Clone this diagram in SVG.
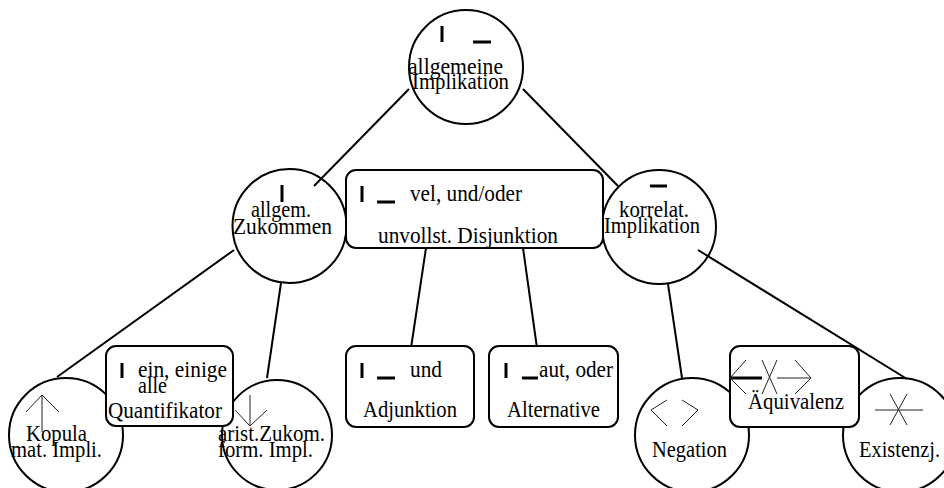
<svg xmlns="http://www.w3.org/2000/svg" width="944" height="488" viewBox="0 0 944 488">
<style>
text{font-family:"Liberation Serif","Times New Roman",serif;font-size:22.5px;fill:#000}
.c{fill:#fff;stroke:#000;stroke-width:2}
.b{fill:#fff;stroke:#000;stroke-width:2}
.e{stroke:#000;stroke-width:2;fill:none}
.k{stroke:#000;stroke-width:3;fill:none}
.s{stroke:#222;stroke-width:1;fill:none}
</style>
<rect width="944" height="488" fill="#fff"/>
<g id="n-allgemeine-implikation">
<circle class="c" cx="466" cy="67" r="57"/>
<line class="k" x1="442" y1="26" x2="442" y2="42"/>
<line class="k" x1="473" y1="42" x2="491" y2="42"/>
<text x="408" y="74" textLength="95" lengthAdjust="spacingAndGlyphs">allgemeine</text>
<text x="412" y="89" textLength="97" lengthAdjust="spacingAndGlyphs">Implikation</text>
</g>
<g id="n-allgem-zukommen">
<circle class="c" cx="289.5" cy="226" r="57"/>
<line class="k" x1="282" y1="185" x2="282" y2="202"/>
<text x="251" y="217" textLength="60" lengthAdjust="spacingAndGlyphs">allgem.</text>
<text x="233" y="234" textLength="99" lengthAdjust="spacingAndGlyphs">Zukommen</text>
</g>
<g id="n-korrelat-implikation">
<circle class="c" cx="659" cy="227" r="57"/>
<line class="k" x1="650" y1="186" x2="667" y2="186"/>
<text x="619" y="217" textLength="70" lengthAdjust="spacingAndGlyphs">korrelat.</text>
<text x="604" y="233" textLength="96" lengthAdjust="spacingAndGlyphs">Implikation</text>
</g>
<g id="n-kopula">
<circle class="c" cx="66" cy="435" r="57"/>
<path class="s" d="M42 432V395M26 412L42 395L59 412"/>
<text x="26" y="441" textLength="61" lengthAdjust="spacingAndGlyphs">Kopula</text>
<text x="11" y="457" textLength="91" lengthAdjust="spacingAndGlyphs">mat. Impli.</text>
</g>
<g id="n-arist-zukom">
<circle class="c" cx="277" cy="435" r="55"/>
<text x="218" y="441" textLength="107" lengthAdjust="spacingAndGlyphs">arist.Zukom.</text>
<text x="218" y="457" textLength="95" lengthAdjust="spacingAndGlyphs">form. Impl.</text>
</g>
<g id="n-negation">
<circle class="c" cx="692" cy="435" r="57"/>
<path class="s" d="M667 400L651 410L667 426M682 400L698 410L682 426"/>
<text x="652" y="457" textLength="75" lengthAdjust="spacingAndGlyphs">Negation</text>
</g>
<g id="n-existenzj">
<circle class="c" cx="900" cy="435" r="57"/>
<path class="s" d="M875 410H923M890 394L907 425M907 394L890 425"/>
<text x="859" y="457" textLength="81" lengthAdjust="spacingAndGlyphs">Existenzj.</text>
</g>
<g id="connectors">
<line class="e" x1="409" y1="89" x2="314" y2="186"/>
<line class="e" x1="523" y1="89" x2="618" y2="186"/>
<line class="e" x1="234" y1="250" x2="57" y2="377"/>
<line class="e" x1="281" y1="283" x2="267" y2="378"/>
<line class="e" x1="426" y1="248" x2="411" y2="348"/>
<line class="e" x1="523" y1="248" x2="537" y2="348"/>
<line class="e" x1="668" y1="284" x2="682" y2="378"/>
<line class="e" x1="698" y1="250" x2="907" y2="379"/>
</g>
<g id="n-disjunktion">
<rect class="b" x="346" y="170" width="257" height="78" rx="10"/>
<line class="k" x1="362" y1="186" x2="362" y2="202"/>
<line class="k" x1="377" y1="202" x2="395" y2="202"/>
<text x="410" y="201" textLength="112" lengthAdjust="spacingAndGlyphs">vel, und/oder</text>
<text x="378" y="243" textLength="180" lengthAdjust="spacingAndGlyphs">unvollst. Disjunktion</text>
</g>
<g id="n-quantifikator">
<rect class="b" x="106" y="346" width="127" height="80" rx="10"/>
<line class="k" x1="122" y1="363" x2="122" y2="378"/>
<text x="138" y="377" textLength="89" lengthAdjust="spacingAndGlyphs">ein, einige</text>
<text x="138" y="393" textLength="29" lengthAdjust="spacingAndGlyphs">alle</text>
<text x="108" y="418" textLength="114" lengthAdjust="spacingAndGlyphs">Quantifikator</text>
</g>
<g id="n-arist-arrow">
<path class="s" d="M250 395V426M235 410L250 426L267 410"/>
</g>
<g id="n-adjunktion">
<rect class="b" x="346" y="346" width="128" height="81" rx="10"/>
<line class="k" x1="362" y1="363" x2="362" y2="378"/>
<line class="k" x1="377" y1="378" x2="395" y2="378"/>
<text x="410" y="377" textLength="32" lengthAdjust="spacingAndGlyphs">und</text>
<text x="363" y="417" textLength="94" lengthAdjust="spacingAndGlyphs">Adjunktion</text>
</g>
<g id="n-alternative">
<rect class="b" x="489" y="346" width="129" height="81" rx="10"/>
<line class="k" x1="506" y1="363" x2="506" y2="378"/>
<line class="k" x1="522" y1="378" x2="538" y2="378"/>
<text x="539" y="377" textLength="74" lengthAdjust="spacingAndGlyphs">aut, oder</text>
<text x="507" y="417" textLength="93" lengthAdjust="spacingAndGlyphs">Alternative</text>
</g>
<g id="n-aequivalenz">
<rect class="b" x="730" y="346" width="129" height="81" rx="10"/>
<line class="k" x1="730" y1="378" x2="762" y2="378"/>
<path class="s" d="M746 360L730 378L746 394M762 360L777 394M777 360L762 394M777 378H811M795 360L811 378L795 394"/>
<text x="748" y="409" textLength="96" lengthAdjust="spacingAndGlyphs">Äquivalenz</text>
</g>
</svg>
